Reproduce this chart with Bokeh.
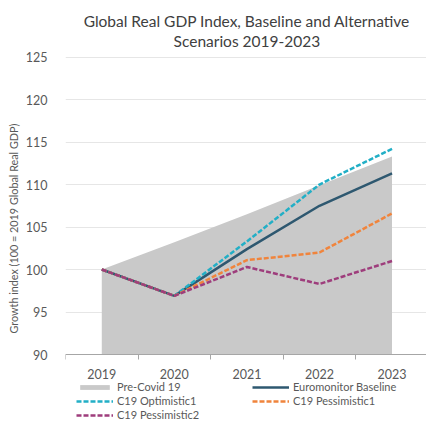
from bokeh.plotting import figure
from bokeh.models import Range1d, FixedTicker, Legend, LegendItem, Title, Label
from bokeh.embed import file_html
from bokeh.resources import INLINE

# Global real GDP index (100 = 2019), baseline and alternative scenarios
years = [2019, 2020, 2021, 2022, 2023]
pre_covid = [100.0, 103.2, 106.5, 109.9, 113.3]
baseline = [100.0, 96.9, 102.4, 107.5, 111.3]
optimistic1 = [100.0, 96.9, 103.3, 110.0, 114.2]
pessimistic1 = [100.0, 96.9, 101.1, 102.0, 106.6]
pessimistic2 = [100.0, 96.9, 100.3, 98.3, 101.0]
y_ticks = [90, 95, 100, 105, 110, 115, 120, 125]
title_lines = ["Global Real GDP Index, Baseline and Alternative",
               "Scenarios 2019-2023"]

FONT = "Lato"
TXT = "#595959"
Y_BASE = y_ticks[0]

# the frame spans the whole page height: title on top, the x axis sits at
# the base value and the legend is drawn in the space underneath it
p = figure(width=426, height=421, output_backend="svg", toolbar_location=None,
           x_range=Range1d(2018.5, 2023.475), y_range=Range1d(82.12, 131.65),
           min_border_left=65, min_border_right=0, min_border_top=0,
           min_border_bottom=0, title=None)
p.outline_line_color = None
p.background_fill_color = "white"
p.border_fill_color = "white"

# two-line chart title, centred over the plot
for i, line in enumerate(title_lines):
    p.add_layout(Label(x=(years[0] + years[-1]) / 2, y=p.y_range.end,
                       y_offset=-20 - 20 * i, text=line, text_align="center",
                       text_baseline="middle", text_font=FONT,
                       text_font_size="15.5px", text_color="#404040"))

# x axis: labels at year centres, tick marks between categories
xax = p.xaxis[0]
xax.fixed_location = Y_BASE
xax.ticker = FixedTicker(ticks=years,
                         minor_ticks=[y - 0.5 for y in years] + [years[-1] + 0.5])
xax.major_tick_out = 0
xax.major_tick_in = 0
xax.minor_tick_out = 5
xax.minor_tick_in = 0
xax.minor_tick_line_color = "#A6A6A6"
xax.axis_line_color = "#A6A6A6"
xax.major_label_standoff = 9
xax.major_label_text_font = FONT
xax.major_label_text_font_size = "12.5px"
xax.major_label_text_color = TXT

yax = p.yaxis[0]
yax.ticker = FixedTicker(ticks=y_ticks)
yax.axis_line_color = None
yax.major_tick_line_color = None
yax.minor_tick_line_color = None
yax.major_label_standoff = 12
yax.major_label_text_font = FONT
yax.major_label_text_font_size = "12.5px"
yax.major_label_text_color = TXT

# rotated y-axis title, placed as a side title
p.add_layout(Title(text="Growth index (100 = 2019 Global Real GDP)",
                   align="left", offset=88, text_font=FONT,
                   text_font_size="10.8px", text_font_style="normal",
                   text_color=TXT, standoff=6), "left")

p.xgrid.grid_line_color = None
p.ygrid.grid_line_color = "#E6E6E6"
p.ygrid.grid_line_width = 1

area = p.varea(x=years, y1=[Y_BASE] * len(years), y2=pre_covid,
               fill_color="#C9C9C9")
r_base = p.line(years, baseline, line_color="#2E5870", line_width=2.5)
r_opt = p.line(years, optimistic1, line_color="#22AFC6", line_width=2.5,
               line_dash="5 2")
r_p1 = p.line(years, pessimistic1, line_color="#F0843C", line_width=2.5,
              line_dash="5 2")
r_p2 = p.line(years, pessimistic2, line_color="#9E3D7C", line_width=2.5,
              line_dash="5 2")

# legend fills column by column: left column first, then right column
legend = Legend(items=[
    LegendItem(label="Pre-Covid 19", renderers=[area]),
    LegendItem(label="C19 Optimistic1", renderers=[r_opt]),
    LegendItem(label="C19 Pessimistic2", renderers=[r_p2]),
    LegendItem(label="Euromonitor Baseline", renderers=[r_base]),
    LegendItem(label="C19 Pessimistic1", renderers=[r_p1]),
], ncols=2, location=(11, 0))
legend.padding = 0
legend.margin = 0
legend.spacing = 1
legend.glyph_width = 37
legend.glyph_height = 6
legend.label_standoff = 4
legend.label_width = 134
legend.label_height = 13
legend.label_text_font = FONT
legend.label_text_font_size = "11px"
legend.label_text_color = TXT
legend.border_line_color = None
legend.background_fill_alpha = 0
p.add_layout(legend, "center")

open("out.html", "w").write(file_html(p, INLINE))
